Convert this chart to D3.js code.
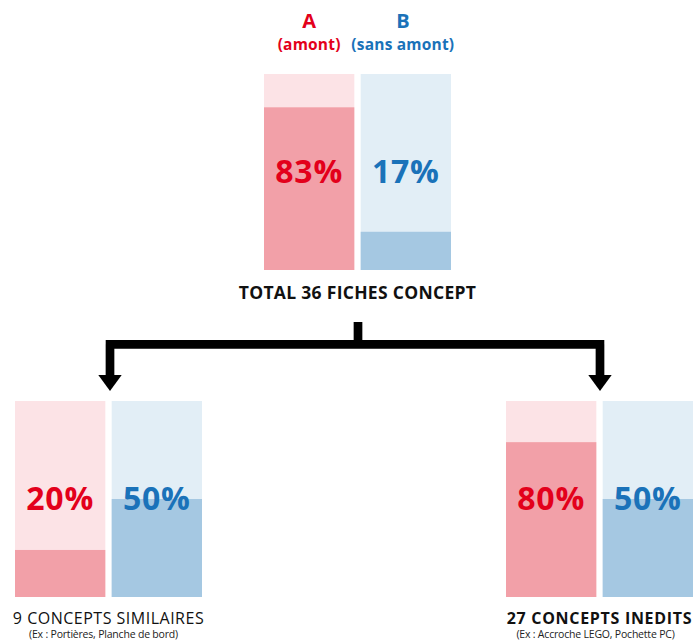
<!DOCTYPE html>
<html>
<meta charset="utf-8">
<title>Fiches concept A / B</title>
<style>
html, body {
  margin: 0;
  background: #fff;
}
svg text {
  font-family: "Open Sans", "Noto Sans", sans-serif;
}
.redTxt { fill: #e3001b; }
.blueTxt { fill: #1a72b9; }
</style>
<svg></svg>
<script src="https://cdn.jsdelivr.net/npm/d3@7/dist/d3.min.js"></script>
<script>

// data
var series = ["A", "B"];
var seriesSub = ["(amont)", "(sans amont)"];
var groupNames = ["TOTAL 36 FICHES CONCEPT", "9 CONCEPTS SIMILAIRES", "27 CONCEPTS INEDITS"];
var groupNotes = ["", "(Ex : Portières, Planche de bord)", "(Ex : Accroche LEGO, Pochette PC)"];
var pctA = [83, 20, 80];
var pctB = [17, 50, 50];
// share of each bar that is filled, as drawn
var fillA = [0.83, 0.24, 0.79];
var fillB = [0.195, 0.50, 0.50];

var width = 697, height = 642;
var svg = d3.select("svg").attr("width", width).attr("height", height);

// where each group sits
var layout = [
  {x: 264, y: 74, bold: true},
  {x: 15, y: 401, bold: false},
  {x: 506, y: 401, bold: true}
];
var groupW = 187, barH = 196;

var x = d3.scaleBand().domain(series).range([0, groupW]).paddingInner(0.066);
var y = d3.scaleLinear().domain([0, 1]).range([barH, 0]);

var light = {A: "#fce3e6", B: "#e2eef6"};
var dark = {A: "#f2a0a8", B: "#a5c8e2"};
var txtClass = {A: "redTxt", B: "blueTxt"};

var groups = groupNames.map(function(name, i) {
  return {
    name: name, note: groupNotes[i], lay: layout[i],
    bars: [
      {key: "A", pct: pctA[i], fill: fillA[i]},
      {key: "B", pct: pctB[i], fill: fillB[i]}
    ]
  };
});

var g = svg.selectAll("g.grp")
  .data(groups)
  .enter().append("g")
    .attr("class", "grp")
    .attr("transform", function(d) { return "translate(" + d.lay.x + "," + d.lay.y + ")"; });

var bar = g.selectAll("g.bar")
  .data(function(d) { return d.bars; })
  .enter().append("g")
    .attr("class", "bar")
    .attr("transform", function(d) { return "translate(" + x(d.key) + ",0)"; });

bar.append("rect")
  .attr("width", x.bandwidth())
  .attr("height", barH)
  .attr("fill", function(d) { return light[d.key]; });

bar.append("rect")
  .attr("y", function(d) { return y(d.fill); })
  .attr("width", x.bandwidth())
  .attr("height", function(d) { return barH - y(d.fill); })
  .attr("fill", function(d) { return dark[d.key]; });

bar.append("text")
  .attr("class", function(d) { return txtClass[d.key]; })
  .attr("x", x.bandwidth() / 2)
  .attr("y", 109)
  .attr("text-anchor", "middle")
  .attr("font-size", 32)
  .attr("font-weight", "bold")
  .attr("letter-spacing", 0.8)
  .text(function(d) { return d.pct + "%"; });

// group labels
g.append("text")
  .attr("x", groupW / 2)
  .attr("y", function(d, i) { return i == 0 ? 225 : 222.5; })
  .attr("text-anchor", "middle")
  .attr("font-size", function(d, i) { return i == 0 ? 17.5 : 16; })
  .attr("font-weight", function(d) { return d.lay.bold ? "bold" : "normal"; })
  .attr("letter-spacing", function(d, i) { return i == 0 ? 0.3 : (i == 1 ? 0.5 : 0.7); })
  .attr("fill", "#111")
  .text(function(d) { return d.name; });

g.append("text")
  .attr("x", function(d, i) { return groupW / 2 - (i == 1 ? 5 : 4); })
  .attr("y", 237)
  .attr("text-anchor", "middle")
  .attr("font-size", 10.5)
  .attr("letter-spacing", -0.2)
  .attr("fill", "#222")
  .text(function(d) { return d.note; });

// series headers above the top group
var topLay = layout[0];
var head = svg.append("g").attr("transform", "translate(" + topLay.x + ",0)");
head.selectAll("text.letter")
  .data(series)
  .enter().append("text")
    .attr("class", function(d) { return "letter " + txtClass[d]; })
    .attr("x", function(d, i) { return x(d) + x.bandwidth() / 2 - (i == 1 ? 3 : 0); })
    .attr("y", 27.5)
    .attr("text-anchor", "middle")
    .attr("font-size", 20)
    .attr("font-weight", "bold")
    .text(function(d) { return d; });

head.selectAll("text.sub")
  .data(series)
  .enter().append("text")
    .attr("class", function(d) { return "sub " + txtClass[d]; })
    .attr("x", function(d, i) { return x(d) + x.bandwidth() / 2 - (i == 1 ? 3 : 0); })
    .attr("y", 49.5)
    .attr("text-anchor", "middle")
    .attr("font-size", 15.5)
    .attr("font-weight", "bold")
    .attr("letter-spacing", 0.2)
    .text(function(d, i) { return seriesSub[i]; });

// branching arrow from the total to the two sub groups
var cTop = topLay.x + groupW / 2 + 0.5;
var cL = layout[1].x + groupW / 2 + 1.5;
var cR = layout[2].x + groupW / 2 + 0.5;
var stemTop = 322, barY = 344.3, headY = 375, tipY = 391;

var p = d3.path();
p.moveTo(cTop, stemTop); p.lineTo(cTop, barY);
p.moveTo(cL - 4.3, barY); p.lineTo(cR + 4.3, barY);
p.moveTo(cL, barY); p.lineTo(cL, headY + 1);
p.moveTo(cR, barY); p.lineTo(cR, headY + 1);
svg.append("path")
  .attr("d", p.toString())
  .attr("fill", "none")
  .attr("stroke", "#000")
  .attr("stroke-width", 8.7);

svg.selectAll("path.head")
  .data([cL, cR])
  .enter().append("path")
    .attr("class", "head")
    .attr("d", function(cx) {
      return "M" + (cx - 11.7) + "," + headY + "L" + (cx + 11.7) + "," + headY + "L" + cx + "," + tipY + "Z";
    })
    .attr("fill", "#000");

</script>
</html>
